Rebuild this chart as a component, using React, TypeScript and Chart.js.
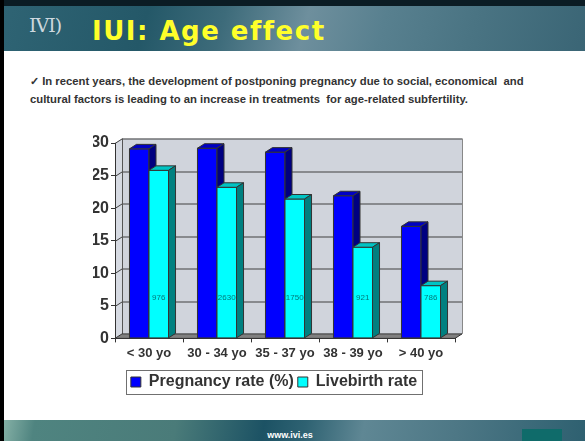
import React, { useEffect, useRef } from "react";
import { Chart, registerables } from "chart.js";

Chart.register(...registerables);

const CATEGORIES = ["< 30 yo", "30 - 34 yo", "35 - 37 yo", "38 - 39 yo", "> 40 yo"];
const PREGNANCY_RATE = [29.1, 29.2, 28.6, 21.9, 17.2];
const LIVEBIRTH_RATE = [25.8, 23.2, 21.4, 14.0, 8.1];
const CYCLE_COUNTS = ["976", "2630", "1750", "921", "786"];
const Y_MIN = 0;
const Y_MAX = 30;
const Y_STEP = 5;
const COUNT_LABEL_LEVEL = 6.2;

const DX = 7;
const DY = 4.5;

const FACE_COLORS = [
  { front: "#0000ff", top: "#0000c4", side: "#000080" },
  { front: "#00ffff", top: "#00c4c4", side: "#008080" },
];

const threeD = {
  id: "threeD",
  beforeDraw(chart: any) {
    const { ctx, chartArea: a, scales } = chart;
    const y = scales.y;
    ctx.save();
    ctx.fillStyle = "#d0d4dc";
    ctx.fillRect(a.left + DX, a.top - DY, a.right - a.left, a.bottom - a.top);
    ctx.fillStyle = "#d6dae2";
    ctx.beginPath();
    ctx.moveTo(a.left, a.top);
    ctx.lineTo(a.left + DX, a.top - DY);
    ctx.lineTo(a.left + DX, a.bottom - DY);
    ctx.lineTo(a.left, a.bottom);
    ctx.closePath();
    ctx.fill();
    ctx.strokeStyle = "#404040";
    ctx.lineWidth = 1;
    for (const t of y.ticks) {
      if (t.value === Y_MIN) continue;
      const py = Math.round(y.getPixelForValue(t.value)) + 0.5;
      ctx.beginPath();
      ctx.moveTo(a.left, py);
      ctx.lineTo(a.left + DX, py - DY);
      ctx.lineTo(a.right + DX, py - DY);
      ctx.stroke();
    }
    ctx.strokeStyle = "#555";
    ctx.beginPath();
    ctx.moveTo(Math.round(a.left + DX) + 0.5, a.top - DY);
    ctx.lineTo(Math.round(a.left + DX) + 0.5, a.bottom - DY);
    ctx.stroke();
    ctx.strokeStyle = "#888";
    ctx.beginPath();
    ctx.moveTo(Math.round(a.right + DX) + 0.5, a.top - DY);
    ctx.lineTo(Math.round(a.right + DX) + 0.5, a.bottom - DY);
    ctx.stroke();
    ctx.fillStyle = "#808080";
    ctx.strokeStyle = "#333";
    ctx.beginPath();
    ctx.moveTo(a.left, a.bottom);
    ctx.lineTo(a.right, a.bottom);
    ctx.lineTo(a.right + DX, a.bottom - DY);
    ctx.lineTo(a.left + DX, a.bottom - DY);
    ctx.closePath();
    ctx.fill();
    ctx.stroke();
    ctx.restore();
  },
  afterDatasetsDraw(chart: any) {
    const { ctx, scales } = chart;
    ctx.save();
    ctx.lineWidth = 1;
    ctx.strokeStyle = "#333";
    ctx.lineJoin = "round";
    for (let d = 0; d < chart.data.datasets.length; d++) {
      const meta = chart.getDatasetMeta(d);
      const c = FACE_COLORS[d];
      meta.data.forEach((el: any) => {
        const { x, y, base, width } = el.getProps(["x", "y", "base", "width"], true);
        const l = x - width / 2;
        const r = x + width / 2;
        ctx.fillStyle = c.front;
        ctx.beginPath();
        ctx.rect(l, y, width, base - y);
        ctx.fill();
        ctx.stroke();
        ctx.fillStyle = c.top;
        ctx.beginPath();
        ctx.moveTo(l, y);
        ctx.lineTo(l + DX, y - DY);
        ctx.lineTo(r + DX, y - DY);
        ctx.lineTo(r, y);
        ctx.closePath();
        ctx.fill();
        ctx.stroke();
        ctx.fillStyle = c.side;
        ctx.beginPath();
        ctx.moveTo(r, y);
        ctx.lineTo(r + DX, y - DY);
        ctx.lineTo(r + DX, base - DY);
        ctx.lineTo(r, base);
        ctx.closePath();
        ctx.fill();
        ctx.stroke();
      });
    }
    const meta1 = chart.getDatasetMeta(1);
    ctx.fillStyle = "#007a7a";
    ctx.font = "8px 'Liberation Sans', Arial, sans-serif";
    ctx.textAlign = "center";
    ctx.textBaseline = "middle";
    const ly = scales.y.getPixelForValue(COUNT_LABEL_LEVEL);
    meta1.data.forEach((el: any, i: number) => {
      ctx.fillText(CYCLE_COUNTS[i], el.x, ly);
    });
    ctx.restore();
  },
  afterDraw(chart: any) {
    const lg = chart.legend;
    if (!lg || !lg.legendHitBoxes || !lg.legendHitBoxes.length) return;
    const hb = lg.legendHitBoxes;
    let l = Infinity, r = -Infinity, cy = 0;
    for (const h of hb) {
      l = Math.min(l, h.left);
      r = Math.max(r, h.left + h.width);
      cy = h.top + h.height / 2;
    }
    const { ctx } = chart;
    ctx.save();
    ctx.strokeStyle = "#707070";
    ctx.lineWidth = 1;
    ctx.strokeRect(Math.round(l - 5) + 0.5, Math.round(cy - 12) + 0.5, Math.round(r - l + 10), 24);
    ctx.restore();
  },
};

export default function App() {
  const ref = useRef<HTMLCanvasElement>(null);
  useEffect(() => {
    if (!ref.current) return;
    const chart = new Chart(ref.current, {
      type: "bar",
      data: {
        labels: CATEGORIES,
        datasets: [
          {
            label: "Pregnancy rate (%)",
            data: PREGNANCY_RATE,
            backgroundColor: FACE_COLORS[0].front,
            borderColor: "#333",
            borderWidth: 1,
            barPercentage: 1,
            categoryPercentage: 0.574,
          },
          {
            label: "Livebirth rate",
            data: LIVEBIRTH_RATE,
            backgroundColor: FACE_COLORS[1].front,
            borderColor: "#333",
            borderWidth: 1,
            barPercentage: 1,
            categoryPercentage: 0.574,
          },
        ],
      },
      options: {
        responsive: false,
        devicePixelRatio: 1,
        animation: false,
        layout: { padding: { left: 93, right: 130, top: 143, bottom: 41 } },
        plugins: {
          tooltip: { enabled: false },
          legend: {
            position: "bottom",
            labels: {
              boxWidth: 10,
              boxHeight: 10,
              padding: 4,
              color: "#333",
              font: { family: "'Liberation Sans', Arial, sans-serif", size: 16, weight: "bold" },
            },
          },
        },
        scales: {
          x: {
            offset: true,
            afterFit: (axis: any) => {
              axis.height += 6;
            },
            grid: { offset: true, drawOnChartArea: false, tickLength: 4, color: "#333" },
            border: { display: true, color: "#333" },
            ticks: {
              color: "#333",
              padding: 3,
              maxRotation: 0,
              font: { family: "'Liberation Sans', Arial, sans-serif", size: 13, weight: "bold" },
            },
          },
          y: {
            min: Y_MIN,
            max: Y_MAX,
            afterFit: (axis: any) => {
              axis.width = 22;
            },
            grid: { drawOnChartArea: false, tickLength: 4, color: "#333" },
            border: { display: true, color: "#333" },
            ticks: {
              stepSize: Y_STEP,
              color: "#333",
              padding: 2,
              font: { family: "'Liberation Sans', Arial, sans-serif", size: 16, weight: "bold" },
            },
          },
        },
      },
      plugins: [threeD],
    });
    return () => chart.destroy();
  }, []);

  return (
    <div
      style={{
        position: "fixed",
        left: 0,
        top: 0,
        width: 585,
        height: 441,
        background: "#fff",
        overflow: "hidden",
        fontFamily: "'Liberation Sans', Arial, sans-serif",
      }}
    >
      <div style={{ position: "absolute", left: 0, top: 0, width: 585, height: 6, background: "#0b1c24" }} />
      <div
        style={{
          position: "absolute",
          left: 0,
          top: 6,
          width: 585,
          height: 45,
          background:
            "linear-gradient(105deg, #2f6474 0%, #245868 25%, #3d6b7a 38%, #6e8f9d 52%, #58808f 65%, #4a7483 80%, #3a6575 100%)",
        }}
      />
      <div
        style={{
          position: "absolute",
          left: 29,
          top: 14,
          fontFamily: "'DejaVu Serif', serif",
          fontSize: 19,
          color: "#cdd8de",
          letterSpacing: -1,
        }}
      >
        IVI)
      </div>
      <div
        style={{
          position: "absolute",
          left: 92,
          top: 15,
          fontFamily: "'DejaVu Sans', sans-serif",
          fontWeight: "bold",
          fontSize: 26,
          lineHeight: "32px",
          letterSpacing: 1.5,
          color: "#ffff2a",
          whiteSpace: "nowrap",
        }}
      >
        IUI: Age effect
      </div>
      <div
        style={{
          position: "absolute",
          left: 30,
          top: 72,
          width: 560,
          fontSize: 11.3,
          fontWeight: "bold",
          lineHeight: "18px",
          color: "#333",
          whiteSpace: "nowrap",
        }}
      >
        ✓ In recent years, the development of postponing pregnancy due to social, economical&nbsp; and
        <br />
        cultural factors is leading to an increase in treatments&nbsp; for age-related subfertility.
      </div>
      <div
        style={{
          position: "absolute",
          left: 0,
          top: 420,
          width: 585,
          height: 21,
          background:
            "linear-gradient(100deg, #8bb5aa 0%, #4f8480 6%, #4a7b79 30%, #1c5264 45%, #2e6272 52%, #5f8794 62%, #4d7785 78%, #2e6070 100%)",
        }}
      />
      <div
        style={{
          position: "absolute",
          left: 240,
          width: 100,
          top: 430,
          textAlign: "center",
          fontSize: 9,
          fontWeight: "bold",
          color: "#fff",
        }}
      >
        www.ivi.es
      </div>
      <div style={{ position: "absolute", left: 522, top: 429, width: 40, height: 12, background: "#0f6b6a" }} />
      <div style={{ position: "absolute", left: 0, top: 0, width: 4, height: 441, background: "#000" }} />
      <canvas
        ref={ref}
        width={585}
        height={441}
        style={{ position: "absolute", left: 0, top: 0, width: 585, height: 441 }}
      />
    </div>
  );
}
